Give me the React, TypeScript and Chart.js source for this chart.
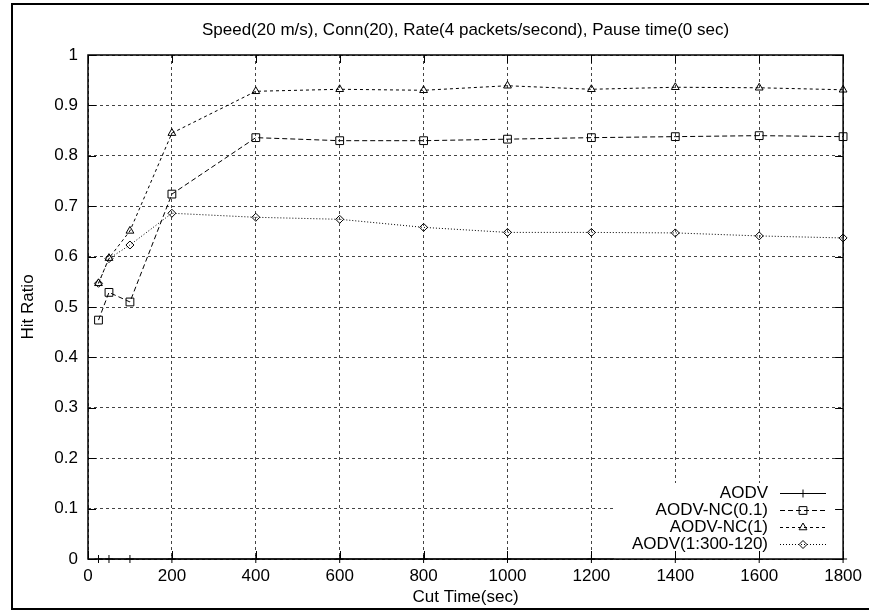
import React, { useEffect, useRef } from 'react';
import { Chart, registerables } from 'chart.js';

Chart.register(...registerables);

// Cut time (sec) sampled for every protocol variant
const CUT_TIMES = [25, 50, 100, 200, 400, 600, 800, 1000, 1200, 1400, 1600, 1800];

// Hit ratio per variant
const AODV = [0, 0, 0, 0, 0, 0, 0, 0, 0, 0, 0, 0];
const AODV_NC_01 = [0.474, 0.529, 0.51, 0.724, 0.836, 0.83, 0.83, 0.833, 0.836, 0.838, 0.84, 0.838];
const AODV_NC_1 = [0.547, 0.597, 0.651, 0.845, 0.928, 0.932, 0.93, 0.939, 0.932, 0.936, 0.935, 0.931];
const AODV_1_300_120 = [0.547, 0.596, 0.623, 0.686, 0.678, 0.674, 0.658, 0.648, 0.648, 0.647, 0.641, 0.637];

const X_TICKS = [0, 200, 400, 600, 800, 1000, 1200, 1400, 1600, 1800];
const X_TICK_LABELS = ['0', '200', '400', '600', '800', '1000', '1200', '1400', '1600', '1800'];
const Y_TICKS = [0, 0.1, 0.2, 0.3, 0.4, 0.5, 0.6, 0.7, 0.8, 0.9, 1];
const Y_TICK_LABELS = ['0', '0.1', '0.2', '0.3', '0.4', '0.5', '0.6', '0.7', '0.8', '0.9', '1'];

const TITLE = 'Speed(20 m/s), Conn(20), Rate(4 packets/second), Pause time(0 sec)';
const X_TITLE = 'Cut Time(sec)';
const Y_TITLE = 'Hit Ratio';

type Marker = 'cross' | 'rect' | 'triangle' | 'rectRot';

const SERIES: { label: string; values: number[]; dash: number[]; marker: Marker; radius: number }[] = [
  { label: 'AODV', values: AODV, dash: [], marker: 'cross', radius: 4 },
  { label: 'AODV-NC(0.1)', values: AODV_NC_01, dash: [5, 3], marker: 'rect', radius: 5.5 },
  { label: 'AODV-NC(1)', values: AODV_NC_1, dash: [3, 3], marker: 'triangle', radius: 4.5 },
  { label: 'AODV(1:300-120)', values: AODV_1_300_120, dash: [1, 2], marker: 'rectRot', radius: 4 },
];

const FONT_FAMILY = '"Liberation Sans", Arial, Helvetica, sans-serif';
const FONT_SIZE = 17;

function drawMarker(ctx: CanvasRenderingContext2D, marker: Marker, r: number, x: number, y: number) {
  ctx.beginPath();
  if (marker === 'cross') {
    ctx.moveTo(x, y - r);
    ctx.lineTo(x, y + r);
    ctx.moveTo(x - r, y);
    ctx.lineTo(x + r, y);
  } else if (marker === 'rect') {
    const s = r * Math.SQRT1_2;
    ctx.rect(x - s, y - s, 2 * s, 2 * s);
  } else if (marker === 'triangle') {
    for (let k = 0; k < 3; k++) {
      const a = (k * 2 * Math.PI) / 3;
      const px = x + Math.sin(a) * r;
      const py = y - Math.cos(a) * r;
      if (k === 0) ctx.moveTo(px, py);
      else ctx.lineTo(px, py);
    }
    ctx.closePath();
  } else {
    ctx.moveTo(x - r, y);
    ctx.lineTo(x, y - r);
    ctx.lineTo(x + r, y);
    ctx.lineTo(x, y + r);
    ctx.closePath();
  }
  ctx.stroke();
}

// Opaque key, plot border with inward ticks, titles and the outer figure frame
const gnuplotDecor = {
  id: 'gnuplotDecor',
  afterDatasetsDraw(chart: any) {
    const { ctx, chartArea: a, scales } = chart;
    const xs = scales.x;
    const ys = scales.y;
    ctx.save();

    // key
    const keyLeft = a.right - 229;
    const keyTop = 483;
    ctx.fillStyle = '#fff';
    ctx.fillRect(keyLeft, keyTop, a.right - keyLeft, a.bottom - keyTop);
    ctx.font = `${FONT_SIZE}px ${FONT_FAMILY}`;
    ctx.textAlign = 'right';
    ctx.textBaseline = 'middle';
    SERIES.forEach((s, i) => {
      const rowY = 493 + i * 17;
      ctx.fillStyle = '#000';
      ctx.fillText(s.label, 768, rowY);
      ctx.strokeStyle = '#000';
      ctx.lineWidth = 1;
      ctx.setLineDash(s.dash);
      ctx.beginPath();
      ctx.moveTo(780, rowY + 0.5);
      ctx.lineTo(826, rowY + 0.5);
      ctx.stroke();
      ctx.setLineDash([]);
      drawMarker(ctx, s.marker, s.radius, 803, rowY + 0.5);
    });

    // plot border
    ctx.setLineDash([]);
    ctx.strokeStyle = '#000';
    ctx.lineWidth = 1.5;
    ctx.strokeRect(a.left, a.top, a.right - a.left, a.bottom - a.top);

    // inward ticks on all four sides
    ctx.lineWidth = 1;
    ctx.beginPath();
    X_TICKS.forEach((v) => {
      const px = Math.round(xs.getPixelForValue(v)) + 0.5;
      ctx.moveTo(px, a.bottom);
      ctx.lineTo(px, a.bottom - 8);
      ctx.moveTo(px, a.top);
      ctx.lineTo(px, a.top + 8);
    });
    Y_TICKS.forEach((v) => {
      const py = Math.round(ys.getPixelForValue(v)) + 0.5;
      ctx.moveTo(a.left, py);
      ctx.lineTo(a.left + 8, py);
      ctx.moveTo(a.right, py);
      ctx.lineTo(a.right - 8, py);
    });
    ctx.stroke();

    // titles
    const cx = (a.left + a.right) / 2;
    ctx.fillStyle = '#000';
    ctx.textAlign = 'center';
    ctx.textBaseline = 'middle';
    ctx.fillText(TITLE, cx, 30);
    ctx.fillText(X_TITLE, cx, 597);
    ctx.save();
    ctx.translate(28, (a.top + a.bottom) / 2);
    ctx.rotate(-Math.PI / 2);
    ctx.fillText(Y_TITLE, 0, 0);
    ctx.restore();

    // outer frame (open on the right edge)
    ctx.fillStyle = '#000';
    ctx.fillRect(11, 3, chart.width - 11, 2);
    ctx.fillRect(11, 3, 2, 607);
    ctx.fillRect(11, 608, chart.width - 11, 2);

    ctx.restore();
  },
};

export default function App() {
  const canvasRef = useRef<HTMLCanvasElement | null>(null);

  useEffect(() => {
    const canvas = canvasRef.current;
    if (!canvas) return;
    const tickFont = { family: FONT_FAMILY, size: FONT_SIZE };
    const chart = new Chart(canvas, {
      type: 'line',
      data: {
        datasets: SERIES.map((s) => ({
          label: s.label,
          data: CUT_TIMES.map((t, i) => ({ x: t, y: s.values[i] })),
          borderColor: '#000',
          borderWidth: 1,
          borderDash: s.dash,
          fill: false,
          tension: 0,
          pointStyle: s.marker,
          pointRadius: s.radius,
          pointBorderColor: '#000',
          pointBorderWidth: 1,
          pointBackgroundColor: 'rgba(0,0,0,0)',
          clip: false as any,
        })),
      },
      options: {
        responsive: false,
        animation: false,
        devicePixelRatio: 1,
        layout: { padding: { left: 0, top: 55, right: 22, bottom: 0 } },
        plugins: {
          legend: { display: false },
          title: { display: false },
          tooltip: { enabled: false },
        },
        scales: {
          x: {
            type: 'linear',
            min: 0,
            max: 1800,
            afterBuildTicks: (s: any) => {
              s.ticks = X_TICKS.map((v) => ({ value: v }));
            },
            afterFit: (s: any) => {
              s.height = 52;
            },
            ticks: {
              autoSkip: false,
              maxRotation: 0,
              padding: 7,
              color: '#000',
              font: tickFont,
              callback: (_v: any, i: number) => X_TICK_LABELS[i],
            },
            grid: { color: '#444', lineWidth: 1, drawTicks: false },
            border: { display: false, dash: [3, 3] },
          },
          y: {
            type: 'linear',
            min: 0,
            max: 1,
            afterBuildTicks: (s: any) => {
              s.ticks = Y_TICKS.map((v) => ({ value: v }));
            },
            afterFit: (s: any) => {
              s.width = 88;
            },
            ticks: {
              autoSkip: false,
              padding: 10,
              color: '#000',
              font: tickFont,
              callback: (_v: any, i: number) => Y_TICK_LABELS[i],
            },
            grid: { color: '#444', lineWidth: 1, drawTicks: false },
            border: { display: false, dash: [3, 3] },
          },
        },
      },
      plugins: [gnuplotDecor],
    } as any);
    return () => chart.destroy();
  }, []);

  return (
    <div style={{ position: 'fixed', left: 0, top: 0, width: 869, height: 611, background: '#fff' }}>
      <canvas ref={canvasRef} width={869} height={611} style={{ display: 'block' }} />
    </div>
  );
}
